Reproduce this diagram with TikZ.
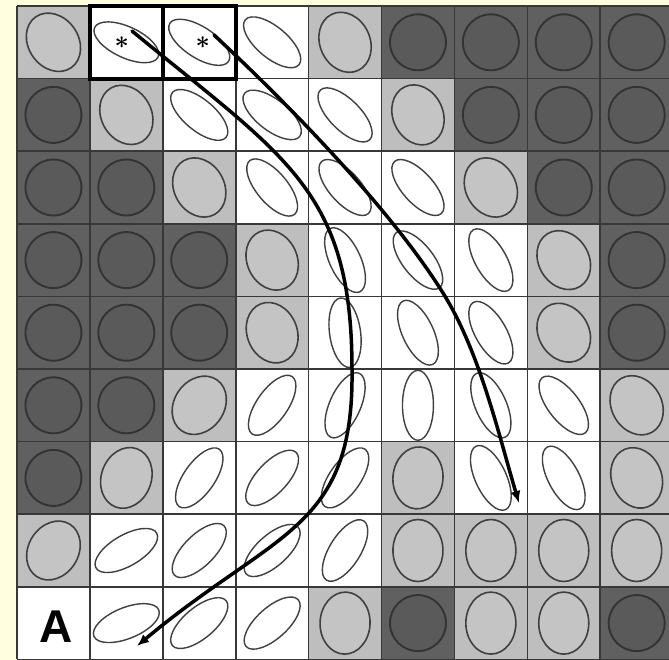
\documentclass[tikz,border=0pt]{standalone}
\usepackage{fontspec}
\setmainfont{Liberation Sans}
\usetikzlibrary{arrows.meta}
\definecolor{bgyel}{HTML}{FFFFE0}
\definecolor{cdark}{HTML}{606060}
\definecolor{cdarkin}{HTML}{5A5A5A}
\definecolor{cdarkline}{HTML}{333333}
\definecolor{clight}{HTML}{BEBEBE}
\definecolor{clightin}{HTML}{C4C4C4}
\definecolor{cline}{HTML}{404040}
\definecolor{gridc}{HTML}{383838}
\tikzset{
  cellD/.style={fill=cdark},
  cellL/.style={fill=clight},
  cellW/.style={fill=white},
  cellN/.style={fill=white},
  ellD/.style={fill=cdarkin, draw=cdarkline, line width=1.9pt, x radius=28pt, y radius=28pt},
  ellL/.style={fill=clightin, draw=cline, line width=1.6pt, x radius=31pt, y radius=25pt},
  ellW/.style={fill=white, draw=cline, line width=1.4pt, x radius=35pt, y radius=15.5pt},
  ellN/.style={draw=none, fill=none, x radius=1pt, y radius=1pt},
  gridl/.style={draw=gridc, line width=1.6pt},
  framel/.style={draw=black, line width=3.8pt},
  arr/.style={draw=black, line width=3.5pt, line cap=round, -{Latex[length=12pt,width=10pt]}},
  startxt/.style={inner sep=0pt, font=\fontsize{30}{30}\selectfont\boldmath},
  labeltxt/.style={inner sep=0pt, font=\fontsize{46}{46}\selectfont\bfseries}
}
\def\cw{72.9}
\def\ch{72.6}
\def\rowA{L/-55,W/-25,W/-33,W/-40,L/-65,D/0,D/0,D/0,D/0}
\def\rowB{D/0,L/-60,W/-40,W/-38,W/-45,L/-65,D/0,D/0,D/0}
\def\rowC{D/0,D/0,L/-60,W/-50,W/-48,W/-48,L/-60,D/0,D/0}
\def\rowD{D/0,D/0,D/0,L/-65,W/-65,W/-52,W/-60,L/-58,D/0}
\def\rowE{D/0,D/0,D/0,L/-68,W/-82,W/-65,W/-60,L/-58,D/0}
\def\rowF{D/0,D/0,L/55,W/55,W/66,W/90,W/-66,W/-52,L/-60}
\def\rowG{D/0,L/70,W/55,W/47,W/55,L/85,W/-65,W/-62,L/-68}
\def\rowH{L/58,W/30,W/45,W/42,W/58,L/90,L/90,L/90,L/90}
\def\rowI{N/0,W/22,W/40,W/42,L/88,D/0,L/90,L/90,D/0}
\begin{document}
\begin{tikzpicture}[x=1pt,y=-1pt]
\useasboundingbox (0,0) rectangle (669,660);
\fill[bgyel] (0,0) rectangle (669,660);
\begin{scope}
\clip (0,0) rectangle (669,660);
\foreach \r/\rowlist in {0/\rowA,1/\rowB,2/\rowC,3/\rowD,4/\rowE,5/\rowF,6/\rowG,7/\rowH,8/\rowI}{
  \edef\rowexp{\rowlist}
  \foreach \t/\a [count=\ci from 0] in \rowexp {
    \fill[cell\t] ({17+\cw*\ci},{6+\ch*\r}) rectangle ++(\cw,\ch);
    \path[ell\t, shift={({17+\cw*(\ci+0.5)},{6+\ch*(\r+0.5)})}, rotate=\a] (0,0) ellipse [];
  }
}
\foreach \i in {0,...,9}{
  \draw[gridl] ({17+\cw*\i},6) -- ({17+\cw*\i},{6+9*\ch});
  \draw[gridl] (17,{6+\ch*\i}) -- ({17+9*\cw},{6+\ch*\i});
}
\end{scope}
% bold frame around the two starred cells
\draw[framel] (90,6) rectangle (236,79);
\draw[framel] (163,6) -- (163,79);
% labels
\node[startxt] (star1) at (121.7,43) {$\ast$};
\node[startxt] (star2) at (202.7,43) {$\ast$};
\node[labeltxt] (lblA) at (56,626.5) {A};
% arrows
\coordinate (a1s) at (132,31);
\coordinate (a1m) at (352,370);
\coordinate (a1e) at (137,646);
\coordinate (a2s) at (214,35);
\coordinate (a2m) at (443,293);
\coordinate (a2e) at (519,503);
\draw[arr] (a1s) .. controls (286,158) and (352,190) .. (a1m)
               .. controls (354,530) and (276,530) .. (a1e);
\draw[arr] (a2s) .. controls (287,103) and (390,208) .. (a2m)
               .. controls (480,352) and (499,436) .. (a2e);
\end{tikzpicture}
\end{document}
